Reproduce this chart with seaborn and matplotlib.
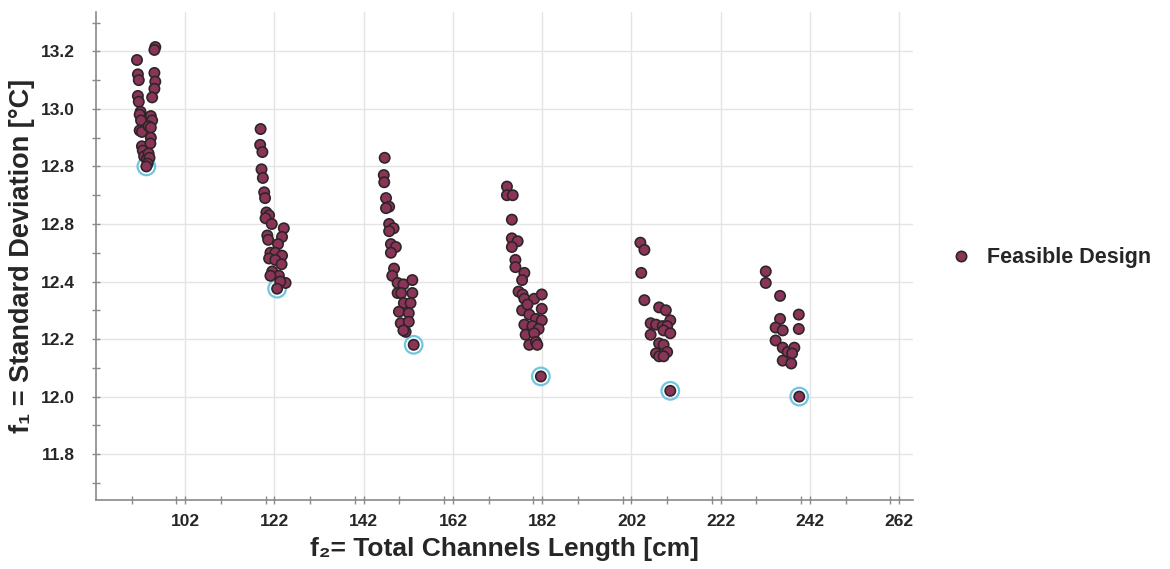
import numpy as np
import pandas as pd
import seaborn as sns
import matplotlib.pyplot as plt
from matplotlib.ticker import MultipleLocator, FixedLocator

# feasible designs (length [cm], std dev [°C])
feasible_len = [
    # ~92 cm group
    91.2, 91.4, 91.6, 91.4, 91.6, 92.0, 91.8, 92.1, 91.8, 92.3, 92.3, 92.5, 92.8, 93.4,
    95.3, 95.1, 95.1, 95.3, 95.1, 94.6, 94.3, 94.6, 93.8, 94.3, 94.3, 94.2, 93.8, 94.0, 93.6,
    # ~120 cm group
    118.9, 118.8, 119.3, 119.1, 119.4, 119.7, 119.9, 120.2, 120.8, 120.0, 121.4, 124.1, 120.4,
    120.6, 123.7, 122.8, 121.1, 122.2, 123.7, 120.8, 122.2, 123.6, 121.5, 123.0, 121.1, 124.5, 123.3,
    # ~150 cm group
    146.7, 146.5, 146.6, 147.0, 147.7, 147.0, 147.7, 148.7, 147.7, 148.1, 149.2, 148.1, 148.8,
    148.4, 149.6, 150.9, 152.9, 149.6, 150.4, 152.9, 151.0, 152.5, 149.9, 152.1, 150.3, 152.1,
    151.4, 150.9,
    # ~178 cm group
    174.1, 174.1, 175.4, 175.2, 175.2, 176.5, 175.2, 176.0, 176.0, 178.0, 177.5, 176.7, 177.6,
    178.0, 180.2, 181.9, 177.5, 179.1, 178.7, 180.6, 181.9, 181.9, 178.0, 179.8, 181.2, 178.3,
    180.2, 179.1, 180.6, 180.9,
    # ~207 cm group
    204.0, 204.9, 204.2, 204.9, 208.2, 209.7, 210.7, 206.3, 207.5, 209.0, 210.0, 206.3, 209.2,
    210.7, 208.2, 209.2, 210.0, 207.5, 208.2, 209.2,
    # ~236 cm group
    232.1, 232.1, 235.3, 235.3, 234.3, 235.9, 239.5, 239.5, 234.3, 235.9, 237.0, 238.5, 238.0,
    235.9, 237.8,
]
feasible_std = [
    13.17, 13.12, 13.10, 13.045, 13.025, 12.99, 12.98, 12.96, 12.925, 12.92, 12.87, 12.855, 12.835, 12.825,
    13.215, 13.205, 13.125, 13.095, 13.07, 13.04, 12.975, 12.96, 12.94, 12.935, 12.90, 12.88, 12.845, 12.83, 12.81,
    12.93, 12.875, 12.85, 12.79, 12.76, 12.71, 12.69, 12.64, 12.63, 12.62, 12.60, 12.585, 12.56,
    12.545, 12.555, 12.53, 12.50, 12.50, 12.49, 12.48, 12.475, 12.46, 12.435, 12.42, 12.42, 12.395, 12.40,
    12.83, 12.77, 12.745, 12.69, 12.66, 12.655, 12.60, 12.585, 12.575, 12.53, 12.52, 12.50, 12.445,
    12.42, 12.395, 12.39, 12.405, 12.36, 12.36, 12.36, 12.325, 12.325, 12.295, 12.29, 12.255, 12.26,
    12.225, 12.23,
    12.73, 12.70, 12.70, 12.615, 12.55, 12.54, 12.52, 12.475, 12.45, 12.43, 12.405, 12.365, 12.355,
    12.34, 12.34, 12.355, 12.30, 12.285, 12.32, 12.27, 12.305, 12.265, 12.25, 12.245, 12.235, 12.215,
    12.22, 12.18, 12.19, 12.18,
    12.535, 12.51, 12.43, 12.335, 12.31, 12.30, 12.265, 12.255, 12.25, 12.245, 12.245, 12.215, 12.23,
    12.22, 12.185, 12.18, 12.155, 12.15, 12.14, 12.14,
    12.435, 12.395, 12.35, 12.27, 12.24, 12.23, 12.285, 12.235, 12.195, 12.17, 12.155, 12.17, 12.15,
    12.125, 12.115,
]

# best point of each group (circled)
pareto_len = [93.3, 122.6, 153.2, 181.7, 210.7, 239.6]
pareto_std = [12.80, 12.375, 12.18, 12.07, 12.02, 12.00]

x_ticks = [102, 122, 142, 162, 182, 202, 222, 242, 262]
y_ticks = [11.8, 12.0, 12.2, 12.4, 12.6, 12.8, 13.0, 13.2]
y_tick_labels = ["11.8", "12.0", "12.2", "12.4", "12.8", "12.8", "13.0", "13.2"]

df = pd.DataFrame({"length": feasible_len + pareto_len,
                   "std": feasible_std + pareto_std})
df["kind"] = "Feasible Design"
best = pd.DataFrame({"length": pareto_len, "std": pareto_std})

sns.set_style("white")
plt.rcParams["font.family"] = ["Liberation Sans", "DejaVu Sans"]

fig = plt.figure(figsize=(11.7, 5.69), dpi=100)
ax = fig.add_axes([0.082, 0.121, 0.698, 0.858])

ax.grid(True, which="major", color="#e4e4e4", linewidth=1.0)
ax.set_axisbelow(True)

sns.scatterplot(data=best, x="length", y="std", ax=ax, s=160, marker="o",
                facecolor="none", edgecolor="#6fc6e2", linewidth=1.6, legend=False, zorder=2)
sns.scatterplot(data=df, x="length", y="std", hue="kind", palette=["#8b3459"], ax=ax,
                s=55, edgecolor="#2e2626", linewidth=1.2, zorder=3)

ax.set_xlim(82, 265)
ax.set_ylim(11.64, 13.337)
ax.xaxis.set_major_locator(FixedLocator(x_ticks))
ax.xaxis.set_minor_locator(MultipleLocator(10))
ax.yaxis.set_major_locator(FixedLocator(y_ticks))
ax.yaxis.set_minor_locator(MultipleLocator(0.1))
ax.set_yticklabels(y_tick_labels)

for side in ["top", "right"]:
    ax.spines[side].set_visible(False)
for side in ["left", "bottom"]:
    ax.spines[side].set_color("#8a8a8a")
    ax.spines[side].set_linewidth(1.2)

ax.tick_params(which="both", direction="inout", color="#8a8a8a", width=1.0,
               bottom=True, left=True)
ax.tick_params(which="major", length=6)
ax.tick_params(which="minor", length=6)
ax.tick_params(axis="y", which="major", labelsize=12.5, pad=12)
ax.tick_params(axis="x", which="major", labelsize=12.5, pad=7)
for lab in ax.get_xticklabels() + ax.get_yticklabels():
    lab.set_fontweight("bold")

ax.set_xlabel("f₂= Total Channels Length [cm]", fontsize=19, fontweight="bold", labelpad=6)
ax.set_ylabel("f₁ = Standard Deviation [°C]", fontsize=19.5, fontweight="bold", labelpad=4)

handles, labels = ax.get_legend_handles_labels()
ax.legend(handles=handles, labels=labels, loc="center left", bbox_to_anchor=(0.796, 0.547),
          bbox_transform=fig.transFigure, frameon=False, handletextpad=0.2, borderaxespad=0,
          prop={"weight": "bold", "size": 15.5}, markerscale=1.0)

fig.savefig("out.png", dpi=100)
